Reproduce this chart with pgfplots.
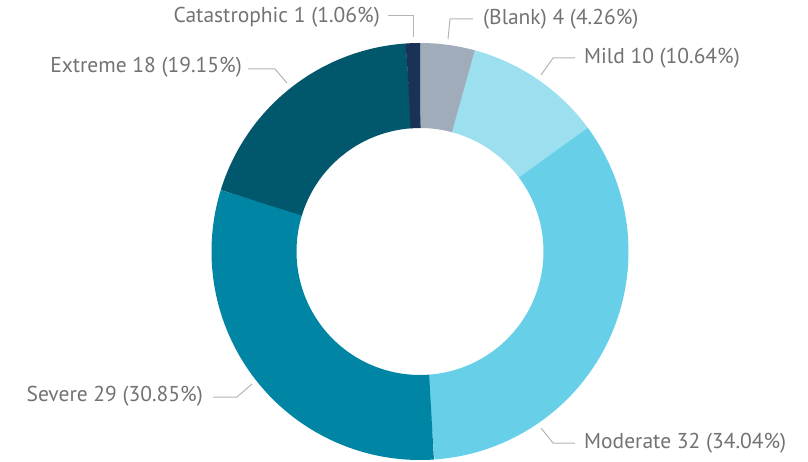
\documentclass[border=0pt]{standalone}
\usepackage{fontspec}
\setmainfont{PT Sans}
\usepackage{pgfplots}
\usepackage{pgfplotstable}
\pgfplotsset{compat=1.18}

\definecolor{cBlank}{HTML}{A1ACBA}
\definecolor{cMild}{HTML}{9CDFEF}
\definecolor{cModerate}{HTML}{67D0E8}
\definecolor{cSevere}{HTML}{0086A4}
\definecolor{cExtreme}{HTML}{01576B}
\definecolor{cCatastrophic}{HTML}{1B3257}
\definecolor{lbl}{HTML}{727272}
\definecolor{lead}{HTML}{B4B4B4}

% slices clockwise from 12 o'clock
\pgfplotstableread{
name value
Blank 4
Mild 10
Moderate 32
Severe 29
Extreme 18
Catastrophic 1
}\severity

\begin{document}
\begin{tikzpicture}[lab/.style={font=\fontsize{21.5}{24}\selectfont, text=lbl, inner sep=0pt}]
\pgfplotstablegetrowsof{\severity}
\pgfmathtruncatemacro\nrows{\pgfplotsretval-1}
\gdef\total{0}
\foreach \i in {0,...,\nrows}{%
  \pgfplotstablegetelem{\i}{value}\of\severity
  \pgfmathsetmacro\t{\total+\pgfplotsretval}%
  \global\let\total\t
}
% cumulative angles (degrees) and colour names
\gdef\acc{0}
\foreach \i in {0,...,\nrows}{%
  \pgfplotstablegetelem{\i}{value}\of\severity
  \pgfmathsetmacro\s{\acc/\total*360}%
  \pgfmathsetmacro\a{\acc+\pgfplotsretval}%
  \global\let\acc\a
  \pgfmathsetmacro\e{\acc/\total*360}%
  \expandafter\xdef\csname start\i\endcsname{\s}%
  \expandafter\xdef\csname end\i\endcsname{\e}%
  \pgfplotstablegetelem{\i}{name}\of\severity
  \expandafter\xdef\csname col\i\endcsname{c\pgfplotsretval}%
}
\def\cx{420}\def\cy{251.5}\def\rmid{166}

\useasboundingbox (0,0) rectangle (808pt,462pt);
\begin{axis}[
    at={(0,0)}, anchor=south west,
    width=808pt, height=462pt, scale only axis,
    xmin=0, xmax=808, ymin=0, ymax=462, y dir=reverse,
    hide axis, clip=false,
]
\pgfplotsinvokeforeach{0,...,5}{
  \edef\doslice{\noexpand\addplot[draw=\csname col#1\endcsname, line width=85pt, line cap=butt,
      domain=\csname start#1\endcsname-0.15:\csname end#1\endcsname, samples=90]}
  \doslice ({\cx+\rmid*sin(x)}, {\cy-\rmid*cos(x)});
}

\draw[lead, line width=1pt] (axis cs:388,16) -- (axis cs:413,16) -- (axis cs:413,37);
\node[lab, anchor=east] at (axis cs:380,17) {Catastrophic 1 (1.06\%)};

\draw[lead, line width=1pt] (axis cs:473,19) -- (axis cs:450,19) -- (axis cs:448,39);
\node[lab, anchor=west] at (axis cs:483,19) {(Blank) 4 (4.26\%)};

\draw[lead, line width=1pt] (axis cs:575,58) -- (axis cs:553,58) -- (axis cs:541,75);
\node[lab, anchor=west] at (axis cs:584,58) {Mild 10 (10.64\%)};

\draw[lead, line width=1pt] (axis cs:575,443) -- (axis cs:553,443) -- (axis cs:541,428);
\node[lab, anchor=west] at (axis cs:584,443) {Moderate 32 (34.04\%)};

\draw[lead, line width=1pt] (axis cs:213,397) -- (axis cs:237,397) -- (axis cs:252,384);
\node[lab, anchor=east] at (axis cs:203,396) {Severe 29 (30.85\%)};

\draw[lead, line width=1pt] (axis cs:248,69) -- (axis cs:275,69) -- (axis cs:287,83);
\node[lab, anchor=east] at (axis cs:242,67) {Extreme 18 (19.15\%)};
\end{axis}
\end{tikzpicture}
\end{document}
